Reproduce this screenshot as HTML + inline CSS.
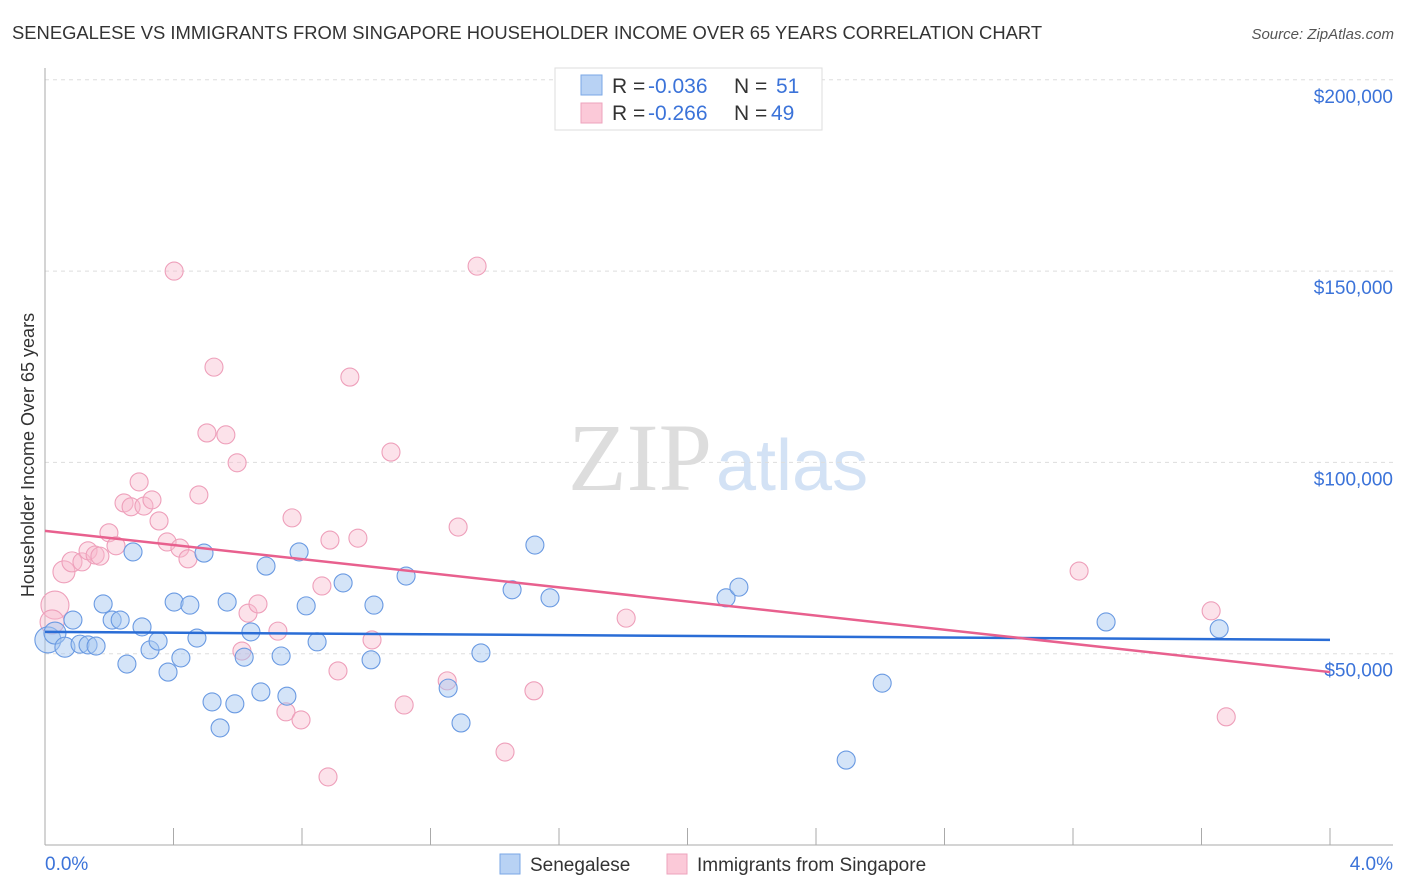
<!DOCTYPE html>
<html><head><meta charset="utf-8"><style>
body{margin:0;background:#fff;font-family:"Liberation Sans",sans-serif;}
#wrap{position:relative;width:1406px;height:892px;overflow:hidden;}
</style></head><body><div id="wrap">
<svg id="svg" width="1406" height="892" xmlns="http://www.w3.org/2000/svg">
<text x="12" y="39" font-size="18.4" fill="#333">SENEGALESE VS IMMIGRANTS FROM SINGAPORE HOUSEHOLDER INCOME OVER 65 YEARS CORRELATION CHART</text>
<text x="1394" y="39" font-size="15" fill="#555" font-style="italic" text-anchor="end">Source: ZipAtlas.com</text>
<text x="712" y="490" font-size="96" fill="#ddd" text-anchor="end" font-family="Liberation Serif,serif">ZIP</text>
<text x="716" y="490" font-size="72" fill="#d3e2f5">atlas</text>
<text transform="translate(34,455) rotate(-90)" font-size="18" fill="#333" text-anchor="middle">Householder Income Over 65 years</text>
<g id="grid"></g><g id="marks"></g>
<g>
<rect x="555" y="68" width="267" height="62" fill="#fff" stroke="#ddd"/>
<rect x="581" y="75" width="21" height="20" fill="#b8d2f4" stroke="#7aa7e6"/>
<rect x="581" y="103" width="21" height="20" fill="#fbc9d8" stroke="#eea3bd"/>
<text x="612" y="93" font-size="21" fill="#333">R = <tspan fill="#3b73d9" x="648">-0.036</tspan><tspan x="734">N = </tspan><tspan fill="#3b73d9" x="776">51</tspan></text>
<text x="612" y="120" font-size="21" fill="#333">R = <tspan fill="#3b73d9" x="648">-0.266</tspan><tspan x="734">N = </tspan><tspan fill="#3b73d9" x="771">49</tspan></text>
</g>
<g>
<rect x="500" y="854" width="20" height="20" fill="#b8d2f4" stroke="#7aa7e6"/>
<text x="530" y="871" font-size="19" fill="#333">Senegalese</text>
<rect x="667" y="854" width="20" height="20" fill="#fbc9d8" stroke="#eea3bd"/>
<text x="697" y="871" font-size="19" fill="#333">Immigrants from Singapore</text>
</g>
</svg>
<script>
const xTickLabels=["0.0%","4.0%"];
const yTicks=[50000,100000,150000,200000];
const yTickLabels=["$50,000","$100,000","$150,000","$200,000"];
const blueX=[0.009,0.031,0.062,0.087,0.109,0.134,0.159,0.181,0.209,0.234,0.255,0.274,0.302,0.327,0.352,0.383,0.402,0.423,0.451,0.473,0.495,0.520,0.545,0.567,0.591,0.620,0.641,0.672,0.688,0.735,0.753,0.791,0.813,0.847,0.928,1.015,1.024,1.124,1.255,1.295,1.357,1.454,1.525,1.572,2.120,2.160,2.494,2.606,3.303,3.655];
const blueY=[53600,55400,51700,58800,52500,52300,52000,63000,58800,58800,47300,76600,57000,51000,53300,45200,63500,48900,62700,54100,76300,37400,30600,63500,36900,49100,55700,40000,72900,49400,38900,76600,62500,53100,68500,48400,62700,70300,41000,31900,50200,66700,78400,64600,64600,67400,22200,42300,58300,56500];
const blueR=[13,11,10,9,9,9,9,9,9,9,9,9,9,9,9,9,9,9,9,9,9,9,9,9,9,9,9,9,9,9,9,9,9,9,9,9,9,9,9,9,9,9,9,9,9,9,9,9,9,9];
const pinkX=[0.031,0.022,0.059,0.084,0.115,0.134,0.156,0.171,0.199,0.221,0.246,0.268,0.293,0.308,0.333,0.355,0.380,0.420,0.445,0.402,0.479,0.504,0.526,0.563,0.598,0.613,0.632,0.663,0.725,0.750,0.769,0.797,0.862,0.881,0.887,0.912,0.949,0.974,1.018,1.077,1.118,1.252,1.286,1.345,1.432,1.522,1.809,3.219,3.630,3.677];
const pinkY=[62700,58300,71400,74000,74000,76900,75800,75500,81600,78200,89400,88400,94900,88600,90200,84700,79200,77600,74800,150000,91500,107700,124900,107200,99900,50700,60600,63000,55900,34800,85500,32700,67700,17800,79700,45500,122300,80200,53600,102700,36600,42900,83100,151300,24300,40300,59300,71600,61200,33500];
const pinkR=[14,12,11,10,9,9,9,9,9,9,9,9,9,9,9,9,9,9,9,9,9,9,9,9,9,9,9,9,9,9,9,9,9,9,9,9,9,9,9,9,9,9,9,9,9,9,9,9,9,9];
const blueTrend=[55700,53600];
const pinkTrend=[82100,45200];
const X0=45,X1=1330,Y0=845,PXV=191.3/50000;
const sx=v=>X0+(v/4)*(X1-X0);
const sy=v=>Y0-v*PXV;
const NS="http://www.w3.org/2000/svg";
const grid=document.getElementById('grid'),marks=document.getElementById('marks');
function mk(tag,attrs,parent){const e=document.createElementNS(NS,tag);for(const k in attrs)e.setAttribute(k,attrs[k]);parent.appendChild(e);return e;}
yTicks.forEach((t,i)=>{
 const l=mk('line',{x1:45,x2:1393,y1:sy(t),y2:sy(t),stroke:'#ddd','stroke-dasharray':'4,4'},grid);
 
 
 const tx=mk('text',{x:1393,y:sy(t)+23,'font-size':19,fill:'#3b73d9','text-anchor':'end'},grid);
 tx.textContent=yTickLabels[i];
 
 
});
const ax=mk('line',{x1:45,x2:45,y1:68,y2:845,stroke:'#aaa'},grid);


const bx=mk('line',{x1:45,x2:1393,y1:845,y2:845,stroke:'#aaa'},grid);


for(let i=0;i<=10;i++){
 const t=mk('line',{x1:sx(i*0.4),x2:sx(i*0.4),y1:828,y2:845,stroke:'#aaa'},grid);
 
 
}
[[0,'start',45],[4,'end',1393]].forEach((d,i)=>{
 const t=mk('text',{x:d[2],y:870,'font-size':19,fill:'#3b73d9','text-anchor':d[1]},grid);
 t.textContent=xTickLabels[i];
 
 
});
function pts(X,Y,R,fill,stroke,name){
 X.forEach((x,i)=>{
  const c=mk('circle',{cx:sx(x),cy:sy(Y[i]),r:R[i],fill:fill,stroke:stroke,'stroke-width':1.1},marks);
  
  
 });
}
pts(pinkX,pinkY,pinkR,'rgba(248,185,205,0.42)','#ee9fba','point-singapore');
pts(blueX,blueY,blueR,'rgba(165,198,240,0.48)','#6a9ae2','point-senegalese');
const tb=mk('line',{x1:sx(0),x2:sx(4),y1:sy(blueTrend[0]),y2:sy(blueTrend[1]),stroke:'#2a6dd6','stroke-width':2.5},marks);


const tp=mk('line',{x1:sx(0),x2:sx(4),y1:sy(pinkTrend[0]),y2:sy(pinkTrend[1]),stroke:'#e8608e','stroke-width':2.5},marks);


</script></div></body></html>
